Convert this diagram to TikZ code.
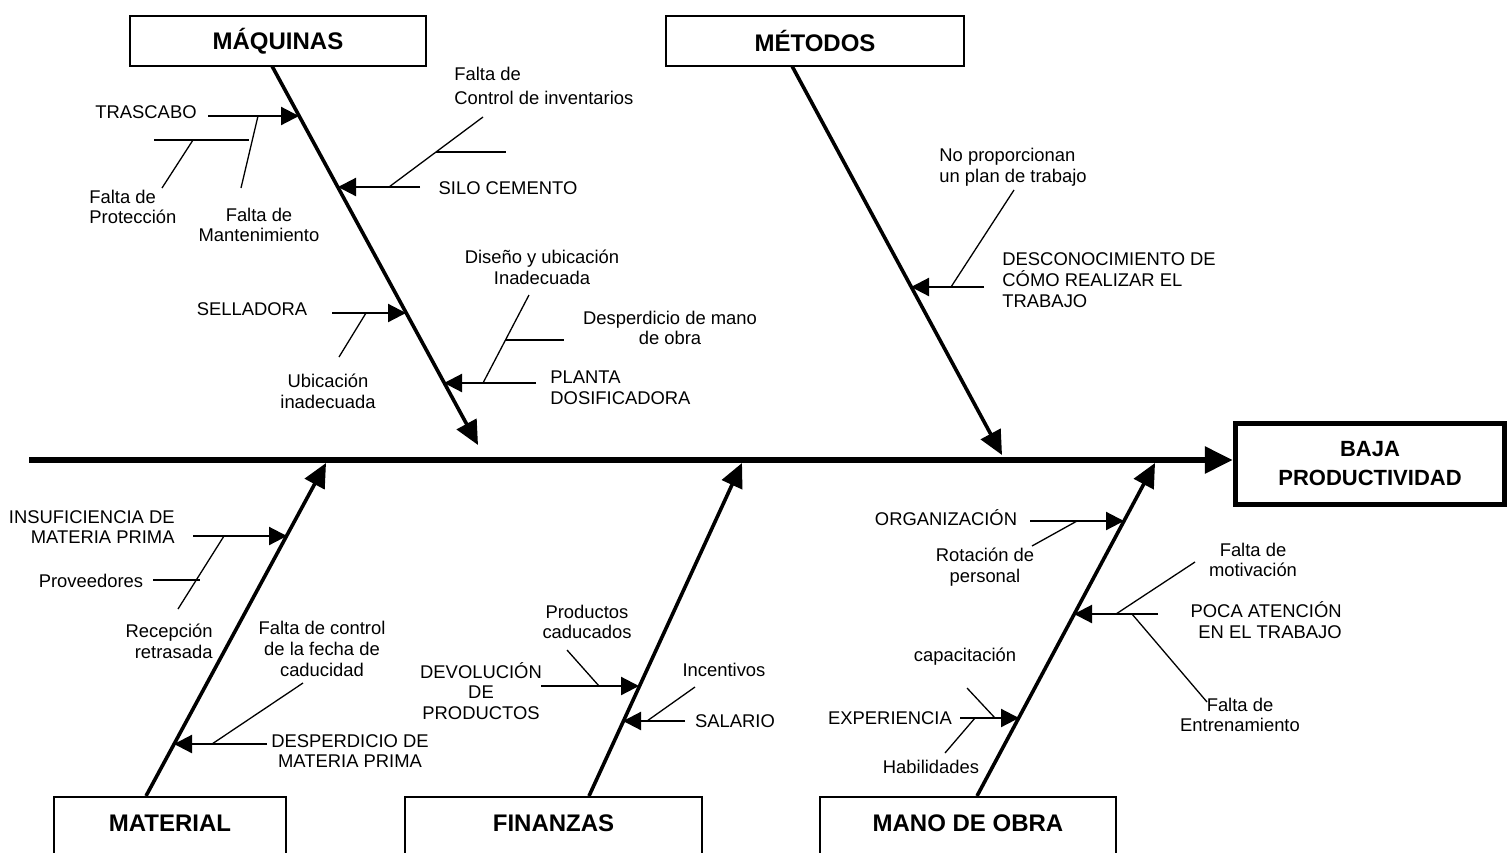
\documentclass[tikz,border=0pt]{standalone}
\usepackage{fontspec}
\setmainfont{Liberation Sans}
\usetikzlibrary{arrows.meta}
\begin{document}
\begin{tikzpicture}[x=0.5pt,y=-0.5pt,
  lbl/.style={font=\fontsize{9.2}{10.4}\selectfont, inner sep=0pt},
  catbox/.style={draw, line width=1pt, font=\fontsize{12}{14}\selectfont\bfseries, inner sep=0pt},
  bone/.style={line width=1.8pt, -{Triangle[length=12pt,width=11pt]}},
  cause/.style={line width=1.1pt, -{Triangle[length=9pt,width=9pt]}},
  sub/.style={line width=0.65pt},
  spine/.style={line width=3pt, -{Triangle[length=14pt,width=13pt]}}]
\useasboundingbox (0,0) rectangle (1510,852);
\fill[white] (0,0) rectangle (1510,852);
\clip (0,0) rectangle (1510,852);

% category boxes
\node[catbox, minimum width=148pt, minimum height=25pt] (maq) at (278,41) {MÁQUINAS};
\node[catbox, minimum width=149pt, minimum height=25pt] (met) at (815,41) {MÉTODOS};
\node[catbox, anchor=north, minimum width=116pt, text height=17.3pt, text depth=20pt] (mat) at (170,796) {MATERIAL};
\node[catbox, anchor=north, minimum width=148.5pt, text height=17.3pt, text depth=20pt] (fin) at (553.5,796) {FINANZAS};
\node[catbox, anchor=north, minimum width=148pt, text height=17.3pt, text depth=20pt] (mano) at (968,796) {MANO DE OBRA};
\node[draw, line width=2.5pt, minimum width=134.75pt, minimum height=40.5pt, inner sep=0pt, align=center,
      font=\fontsize{11}{14.5}\selectfont\bfseries] (baja) at (1370,463.5) {BAJA\\PRODUCTIVIDAD};

% spine
\coordinate (s0) at (29,460);
\draw[spine] (s0) -- (s0 -| baja.west);

% bones
\coordinate (maq0) at (272,66);  \coordinate (maq1) at (478,445);
\coordinate (met0) at (792,66);  \coordinate (met1) at (1002,455);
\coordinate (mat0) at (146,796); \coordinate (mat1) at (326,463);
\coordinate (fin0) at (589,796); \coordinate (fin1) at (742,463);
\coordinate (man0) at (977,796); \coordinate (man1) at (1155,463);
\draw[bone] (maq0) -- (maq1);
\draw[bone] (met0) -- (met1);
\draw[bone] (mat0) -- (mat1);
\draw[bone] (fin0) -- (fin1);
\draw[bone] (man0) -- (man1);

% ---------- MAQUINAS ----------
\coordinate (q1s) at (208,116); \coordinate (q1t) at (299,116);
\coordinate (q1a) at (258,116); \coordinate (q1b) at (241,188);
\coordinate (q1c) at (154,140); \coordinate (q1d) at (249,140);
\coordinate (q1e) at (193,140); \coordinate (q1f) at (162,188);
\coordinate (q2s) at (420,187); \coordinate (q2t) at (338,187);
\coordinate (q2a) at (483,117); \coordinate (q2b) at (389,187);
\coordinate (q2c) at (436,152); \coordinate (q2d) at (506,152);
\coordinate (q3s) at (332,313); \coordinate (q3t) at (406,313);
\coordinate (q3a) at (366,313); \coordinate (q3b) at (339,357);
\coordinate (q4s) at (536,383); \coordinate (q4t) at (444,383);
\coordinate (q4a) at (529,295); \coordinate (q4b) at (483,383);
\coordinate (q4c) at (505,340); \coordinate (q4d) at (564,340);
\draw[cause] (q1s) -- (q1t);
\draw[sub] (q1a) -- (q1b);
\draw[sub] (q1c) -- (q1d);
\draw[sub] (q1e) -- (q1f);
\draw[cause] (q2s) -- (q2t);
\draw[sub] (q2a) -- (q2b);
\draw[sub] (q2c) -- (q2d);
\draw[cause] (q3s) -- (q3t);
\draw[sub] (q3a) -- (q3b);
\draw[cause] (q4s) -- (q4t);
\draw[sub] (q4a) -- (q4b);
\draw[sub] (q4c) -- (q4d);
\node[lbl] (trascabo) at (146,112) {TRASCABO};
\node[lbl, anchor=west, align=left] (prot) at (89,207) {Falta de\\Protección};
\node[lbl, align=center] (mant) at (259,225) {Falta de\\Mantenimiento};
\node[lbl, anchor=west, align=left] (inv) at (454,86) {Falta de\\[2pt]Control de inventarios};
\node[lbl] (silo) at (508,188) {SILO CEMENTO};
\node[lbl, align=center] (dis) at (542,267) {Diseño y ubicación\\Inadecuada};
\node[lbl, align=center] (desmo) at (670,328) {Desperdicio de mano\\de obra};
\node[lbl, anchor=west, align=left] (planta) at (550,388) {PLANTA\\DOSIFICADORA};
\node[lbl] (sell) at (252,309) {SELLADORA};
\node[lbl, align=center] (ubi) at (328,391) {Ubicación\\inadecuada};

% ---------- METODOS ----------
\coordinate (t1s) at (984,287); \coordinate (t1t) at (911,287);
\coordinate (t1a) at (1014,190); \coordinate (t1b) at (951,287);
\draw[cause] (t1s) -- (t1t);
\draw[sub] (t1a) -- (t1b);
\node[lbl, anchor=west, align=left] (noprop) at (939,167) {No proporcionan\\un plan de trabajo};
\node[lbl, anchor=west, align=left] (descon) at (1002,280) {DESCONOCIMIENTO DE\\CÓMO REALIZAR EL\\TRABAJO};

% ---------- MATERIAL ----------
\coordinate (m1s) at (193,536); \coordinate (m1t) at (287,536);
\coordinate (m1a) at (224,536); \coordinate (m1b) at (178,609);
\coordinate (m1c) at (153,580); \coordinate (m1d) at (200,580);
\coordinate (m2s) at (267,744); \coordinate (m2t) at (174,744);
\coordinate (m2a) at (303,683); \coordinate (m2b) at (212,744);
\draw[cause] (m1s) -- (m1t);
\draw[sub] (m1a) -- (m1b);
\draw[sub] (m1c) -- (m1d);
\draw[cause] (m2s) -- (m2t);
\draw[sub] (m2a) -- (m2b);
\node[lbl, anchor=east, align=right] (insuf) at (175,527) {INSUFICIENCIA DE\\MATERIA PRIMA};
\node[lbl] (prov) at (91,581) {Proveedores};
\node[lbl, anchor=east, align=right] (recep) at (213,641) {Recepción\\retrasada};
\node[lbl, align=center] (fecha) at (322,649) {Falta de control\\de la fecha de\\caducidad};
\node[lbl, align=center] (desmp) at (350,751) {DESPERDICIO DE\\MATERIA PRIMA};

% ---------- FINANZAS ----------
\coordinate (f1s) at (541,686); \coordinate (f1t) at (639,686);
\coordinate (f1a) at (567,650); \coordinate (f1b) at (599,686);
\coordinate (f2s) at (685,721); \coordinate (f2t) at (623,721);
\coordinate (f2a) at (695,687); \coordinate (f2b) at (647,721);
\draw[cause] (f1s) -- (f1t);
\draw[sub] (f1a) -- (f1b);
\draw[cause] (f2s) -- (f2t);
\draw[sub] (f2a) -- (f2b);
\node[lbl, align=center] (prodcad) at (587,622) {Productos\\caducados};
\node[lbl, align=center] (devol) at (481,691) {DEVOLUCIÓN\\DE\\PRODUCTOS};
\node[lbl] (incent) at (724,670) {Incentivos};
\node[lbl] (salario) at (735,721) {SALARIO};

% ---------- MANO DE OBRA ----------
\coordinate (o1s) at (1030,521); \coordinate (o1t) at (1124,521);
\coordinate (o1a) at (1077,521); \coordinate (o1b) at (1032,546);
\coordinate (o2s) at (1158,614); \coordinate (o2t) at (1074,614);
\coordinate (o2a) at (1195,562); \coordinate (o2b) at (1116,614);
\coordinate (o2c) at (1132,614); \coordinate (o2d) at (1207,702);
\coordinate (o3s) at (960,718);  \coordinate (o3t) at (1019,718);
\coordinate (o3a) at (967,688);  \coordinate (o3b) at (995,718);
\coordinate (o3c) at (975,718);  \coordinate (o3d) at (945,753);
\draw[cause] (o1s) -- (o1t);
\draw[sub] (o1a) -- (o1b);
\draw[cause] (o2s) -- (o2t);
\draw[sub] (o2a) -- (o2b);
\draw[sub] (o2c) -- (o2d);
\draw[cause] (o3s) -- (o3t);
\draw[sub] (o3a) -- (o3b);
\draw[sub] (o3c) -- (o3d);
\node[lbl] (org) at (946,518) {ORGANIZACIÓN};
\node[lbl, align=center] (rot) at (985,567) {Rotación de\\personal};
\node[lbl, align=center] (motiv) at (1253,560) {Falta de\\motivación};
\node[lbl, anchor=east, align=right] (poca) at (1342,620) {POCA ATENCIÓN\\EN EL TRABAJO};
\node[lbl, align=center] (entr) at (1240,715) {Falta de\\Entrenamiento};
\node[lbl] (capac) at (965,657) {capacitación};
\node[lbl] (exper) at (890,718) {EXPERIENCIA};
\node[lbl] (habil) at (931,767) {Habilidades};
\end{tikzpicture}
\end{document}
